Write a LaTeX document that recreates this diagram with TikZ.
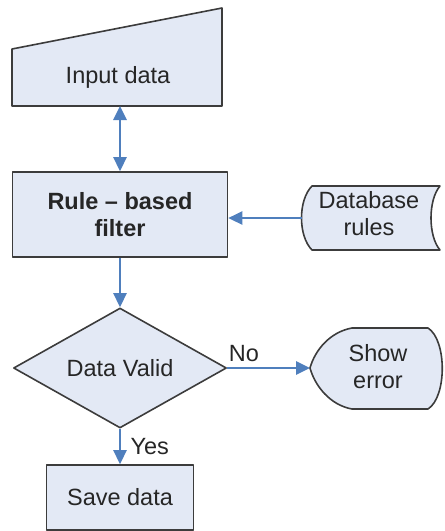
\documentclass[tikz,border=0pt]{standalone}
\usepackage{fontspec}
\setmainfont{Liberation Sans}
\usetikzlibrary{shapes.geometric,arrows.meta}
\definecolor{boxfill}{RGB}{227,233,245}
\definecolor{boxline}{RGB}{60,60,60}
\definecolor{arrowblue}{RGB}{79,127,189}
\tikzset{
  lbl/.style={font=\fontsize{23.5}{27}\selectfont, text=black!85},
  shp/.style={draw=boxline, fill=boxfill, line width=1.6pt, line join=round},
  boxnode/.style={shp, rectangle, inner sep=0pt, align=center, font=\fontsize{23.5}{27}\selectfont, text=black!85},
  flow/.style={draw=arrowblue, line width=2.6pt, -{Triangle[length=14pt,width=13pt]}},
  bflow/.style={draw=arrowblue, line width=2.6pt, {Triangle[length=14pt,width=13pt]}-{Triangle[length=14pt,width=13pt]}},
}
\begin{document}
\begin{tikzpicture}[x=1pt,y=-1pt]
\useasboundingbox (0,0) rectangle (445,531);
% Input data (manual input)
\draw[shp] (12,49) -- (222,8) -- (222,106) -- (12,106) -- cycle;
\node[lbl] (in) at (118,77) {Input data};
\coordinate (inB) at (120,106);
% Rule-based filter
\node[boxnode, minimum width=215pt, minimum height=85pt, font=\fontsize{23.5}{27}\selectfont\bfseries] (filter) at (120,214.5) {Rule -- based\\filter};
% Database rules (stored data)
\draw[shp] (312,186) -- (440,186) .. controls (428,200) and (428,236) .. (440,250) -- (312,250) .. controls (298,236) and (298,200) .. (312,186) -- cycle;
\node[lbl, align=center, font=\fontsize{23.5}{27}\selectfont] (db) at (369,214) {Database\\rules};
\coordinate (dbW) at (301.5,218);
% Decision
\node[shp, diamond, aspect=1.775, inner sep=0pt, minimum width=213pt, minimum height=120pt, font=\fontsize{23.5}{27}\selectfont, text=black!85] (dv) at (120,368) {Data Valid};
% Show error (display)
\draw[shp] (352,328) -- (428,328) .. controls (447,340) and (447,397) .. (428,409) -- (352,409) .. controls (330,405) and (315,386) .. (310,368) .. controls (315,350) and (330,332) .. (352,328) -- cycle;
\node[lbl, align=center, font=\fontsize{23.5}{27}\selectfont] (err) at (378,367) {Show\\error};
\coordinate (errW) at (310,368);
% Save data
\node[boxnode, minimum width=147pt, minimum height=65pt] (save) at (120,497.5) {Save data};
% Connectors
\draw[bflow] (inB) -- (filter.north);
\draw[flow] (dbW) -- (filter.east |- dbW);
\draw[flow] (filter.south) -- (dv.north);
\draw[flow] (dv.east) -- node[lbl, above=2pt, pos=0.2] (no) {No} (errW);
\draw[flow] (dv.south) -- node[lbl, right=6pt, pos=0.5] (yes) {Yes} (save.north);
\end{tikzpicture}
\end{document}
